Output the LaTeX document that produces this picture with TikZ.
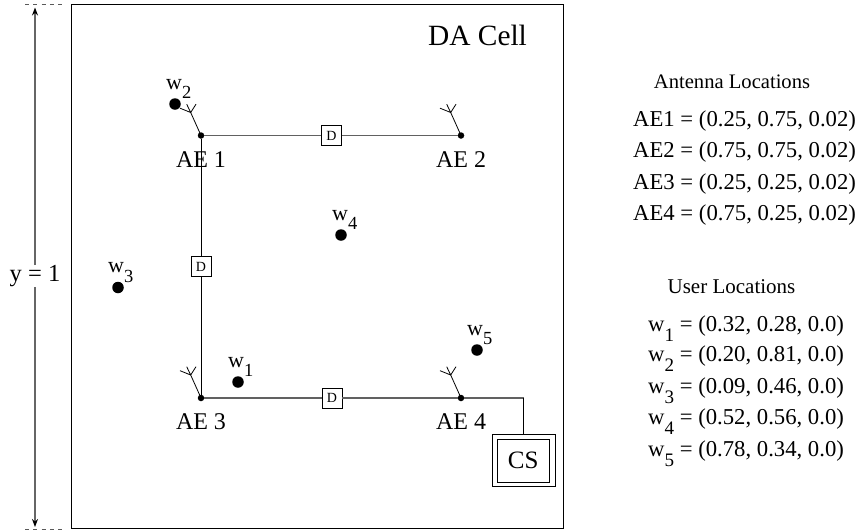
\documentclass[tikz,border=0pt]{standalone}
\usepackage{fontspec}
\setmainfont{Liberation Serif}
\usetikzlibrary{arrows.meta}
\newcommand{\fsz}[1]{\fontsize{#1}{#1}\selectfont}
\newcommand{\usr}[1]{w\raisebox{-.45em}{\fontsize{.84em}{.84em}\selectfont #1}}
\newcommand{\antenna}[1]{%
  \draw[antline] (#1.center) -- ++(-10.3,-23) coordinate (s) (s) -- ++(-10.7,-4.3) (s) -- ++(5.3,-8.3) (s) -- ++(-4,-8.3);}
\tikzset{
  x=1pt,y=-1pt,
  antline/.style={black,line width=0.8pt},
  hwire/.style={black!62,line width=1.4pt},
  vwire/.style={black,line width=0.9pt},
  frame/.style={draw=black,line width=1pt},
  junction/.style={circle,fill=black,inner sep=0pt,minimum size=6.5pt},
  user/.style={circle,fill=black,inner sep=0pt,minimum size=11.5pt},
  delaybox/.style={draw=black,fill=white,line width=0.8pt,minimum size=20pt,inner sep=0pt,font=\fsz{14}},
  lbl/.style={inner sep=0pt,font=\fsz{24}},
  ulbl/.style={inner sep=0pt,anchor=base west,font=\fsz{22}},
  info/.style={inner sep=0pt,anchor=base west,font=\fsz{22.7}},
  head/.style={inner sep=0pt,font=\fsz{20.6}},
  dim/.style={black!60,line width=1.3pt,-{Stealth[black,length=8pt,width=6pt]}},
  dashline/.style={black!65,line width=1pt,dash pattern=on 4pt off 4.3pt},
}
\begin{document}
\begin{tikzpicture}
\useasboundingbox (0,0) rectangle (859,531);
\draw[frame] (71.5,4.5) rectangle (563,528.5);
\coordinate (d1a) at (25,4.5); \coordinate (d1b) at (63,4.5);
\coordinate (d2a) at (25,529); \coordinate (d2b) at (63,529);
\draw[dashline] (d1a) -- (d1b);
\draw[dashline] (d2a) -- (d2b);
\coordinate (tip1) at (35,7.5); \coordinate (tip2) at (35,527);
\node[lbl,font=\fsz{24.5}] (ylab) at (35,276) {y = 1};
\draw[dim] (ylab.north) -- (tip1);
\draw[dim] (ylab.south) -- (tip2);
\node[lbl,font=\fsz{29.4}] (title) at (477.5,35) {DA Cell};
\node[junction] (ae1) at (201,135.5) {};
\node[junction] (ae2) at (461,135.5) {};
\node[junction] (ae3) at (201,398) {};
\node[junction] (ae4) at (461,398) {};
\node[delaybox] (d1) at (331.5,135.5) {D};
\node[delaybox] (d2) at (201,266.5) {D};
\node[delaybox] (d3) at (332,398) {D};
\node[draw=black,line width=0.9pt,minimum width=62.5pt,minimum height=52.5pt,inner sep=0pt] (csout) at (523.8,460.5) {};
\node[draw=black,line width=1.1pt,minimum width=52pt,minimum height=42.5pt,inner sep=0pt,font=\fsz{25}] (cs) at (523.2,460.8) {CS};
\coordinate (bend) at (csout.north |- ae4);
\draw[hwire] (ae1) -- (d1);
\draw[hwire] (d1) -- (ae2);
\draw[hwire] (ae3) -- (d3);
\draw[hwire] (d3) -- (ae4);
\draw[hwire] (ae4) -- (bend);
\draw[vwire] (bend) -- (csout.north);
\draw[vwire] (ae1) -- (d2);
\draw[vwire] (d2) -- (ae3);
\antenna{ae1}\antenna{ae2}\antenna{ae3}\antenna{ae4}
\node[lbl] (l1) at (201,160) {AE 1};
\node[lbl] (l2) at (461,160) {AE 2};
\node[lbl] (l3) at (201,422) {AE 3};
\node[lbl] (l4) at (461,422) {AE 4};
\node[user] (u1) at (238,382) {};
\node[user] (u2) at (175,104) {};
\node[user] (u3) at (118,287.5) {};
\node[user] (u4) at (341,235) {};
\node[user] (u5) at (477,350) {};
\node[ulbl] (n1) at (228,367) {\usr{1}};
\node[ulbl] (n2) at (166,89) {\usr{2}};
\node[ulbl] (n3) at (108,272.5) {\usr{3}};
\node[ulbl] (n4) at (332,220) {\usr{4}};
\node[ulbl] (n5) at (467,335) {\usr{5}};
\node[head] (ah) at (732,82) {Antenna Locations};
\node[info] (a1) at (633,126) {AE1 = (0.25, 0.75, 0.02)};
\node[info] (a2) at (633,157.5) {AE2 = (0.75, 0.75, 0.02)};
\node[info] (a3) at (633,189) {AE3 = (0.25, 0.25, 0.02)};
\node[info] (a4) at (633,220) {AE4 = (0.75, 0.25, 0.02)};
\node[head,font=\fsz{21}] (uh) at (731.5,287) {User Locations};
\node[info] (w1) at (648,331) {\usr{1} = (0.32, 0.28, 0.0)};
\node[info] (w2) at (648,361.5) {\usr{2} = (0.20, 0.81, 0.0)};
\node[info] (w3) at (648,393) {\usr{3} = (0.09, 0.46, 0.0)};
\node[info] (w4) at (648,424.5) {\usr{4} = (0.52, 0.56, 0.0)};
\node[info] (w5) at (648,456) {\usr{5} = (0.78, 0.34, 0.0)};
\end{tikzpicture}
\end{document}
